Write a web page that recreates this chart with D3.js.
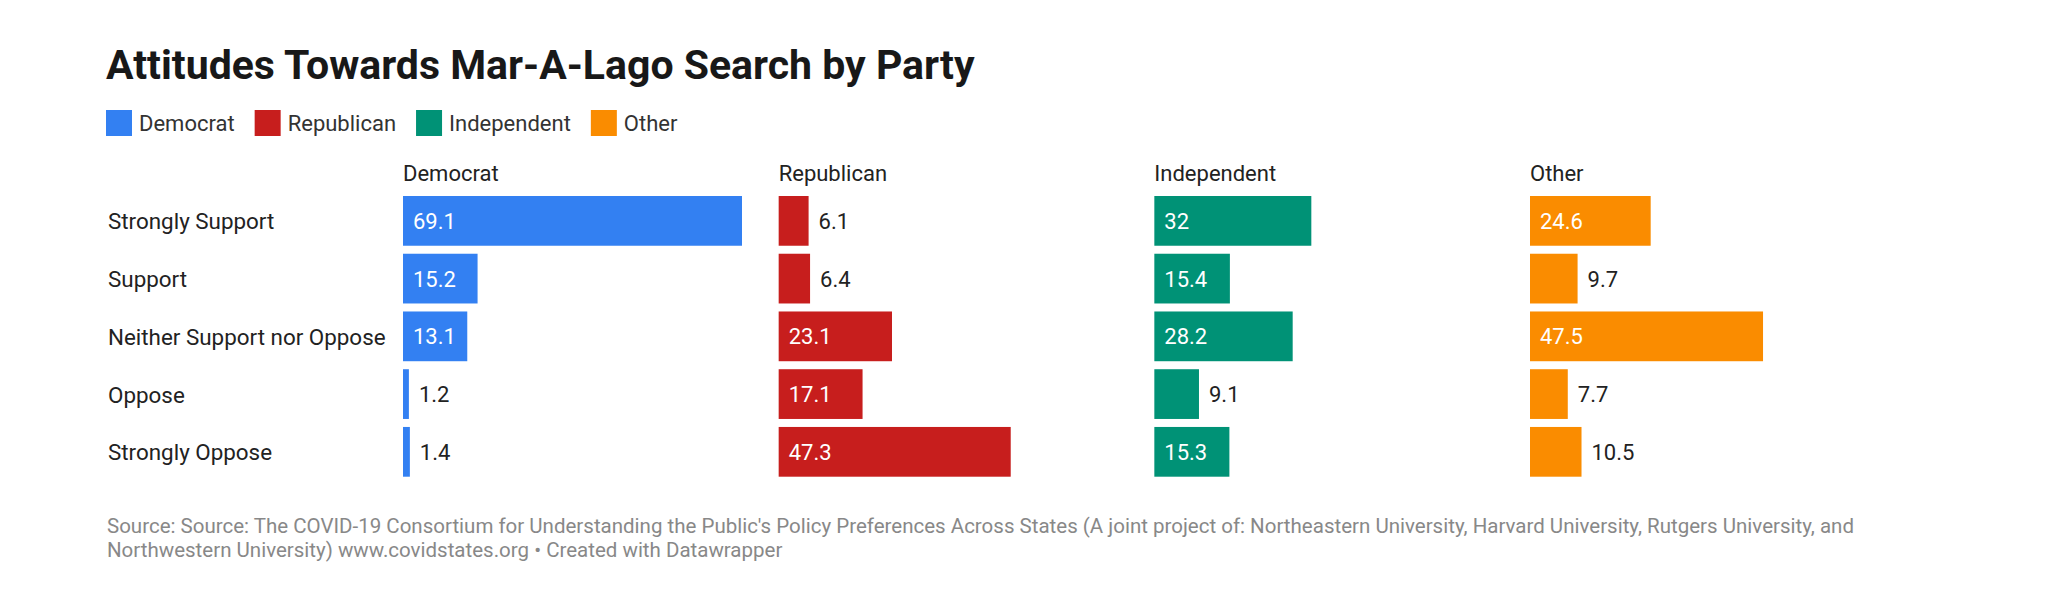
<!DOCTYPE html>
<html>
<head>
<meta charset="utf-8">
<script src="https://cdn.jsdelivr.net/npm/d3@7"></script>
<style>
  html, body { margin: 0; padding: 0; background: #fff; }
  svg { display: block; font-family: Roboto, "Noto Sans", sans-serif; }
</style>
</head>
<body>
<script>
const categories = ["Strongly Support", "Support", "Neither Support nor Oppose", "Oppose", "Strongly Oppose"];
const parties = ["Democrat", "Republican", "Independent", "Other"];
const democrat = [69.1, 15.2, 13.1, 1.2, 1.4];
const republican = [6.1, 6.4, 23.1, 17.1, 47.3];
const independent = [32, 15.4, 28.2, 9.1, 15.3];
const other = [24.6, 9.7, 47.5, 7.7, 10.5];
const colors = ["#3380f2", "#c71e1d", "#009276", "#fa8c00"];
const titleText = "Attitudes Towards Mar-A-Lago Search by Party";
const sourceLines = [
  "Source: Source: The COVID-19 Consortium for Understanding the Public's Policy Preferences Across States (A joint project of: Northeastern University, Harvard University, Rutgers University, and",
  "Northwestern University) www.covidstates.org \u2022 Created with Datawrapper"
];

const seriesValues = [democrat, republican, independent, other];
const W = 2056, H = 598;

const svg = d3.select("body").append("svg").attr("width", W).attr("height", H);

// Title
svg.append("text").attr("x", 106).attr("y", 79)
  .attr("font-size", 41).attr("font-weight", 700).attr("fill", "#181818")
  .text(titleText);

// Legend
const legend = svg.append("g");
let lx = 106;
parties.forEach((p, i) => {
  legend.append("rect").attr("x", lx).attr("y", 110).attr("width", 26).attr("height", 26).attr("fill", colors[i]);
  const t = legend.append("text").attr("x", lx + 33).attr("y", 131)
    .attr("font-size", 22).attr("fill", "#333").text(p);
  lx += 33 + t.node().getComputedTextLength() + 20;
});

// Scales
const panelX = d3.scaleBand().domain(parties).range([403, 1869]).paddingInner(0.0976).paddingOuter(0);
const allVals = seriesValues.flat();
const x = d3.scaleLinear().domain([0, d3.max(allVals)]).range([0, panelX.bandwidth()]);
const y = d3.scaleBand().domain(categories).range([196, 476.7]).paddingInner(0.1385).paddingOuter(0);

// Row labels
svg.append("g").selectAll("text").data(categories).join("text")
  .attr("x", 108).attr("y", d => y(d) + y.bandwidth() / 2).attr("dy", "0.38em")
  .attr("font-size", 22.4).attr("fill", "#222").text(d => d);

// Panels
parties.forEach((p, i) => {
  const g = svg.append("g").attr("transform", `translate(${panelX(p)},0)`);
  g.append("text").attr("x", 0).attr("y", 181).attr("font-size", 22).attr("fill", "#222").text(p);
  const data = categories.map((c, j) => ({ c, v: seriesValues[i][j] }));
  g.selectAll("rect").data(data).join("rect")
    .attr("x", 0).attr("y", d => y(d.c))
    .attr("width", d => x(d.v)).attr("height", y.bandwidth())
    .attr("fill", colors[i]);
  g.selectAll("text.val").data(data).join("text").attr("class", "val")
    .attr("y", d => y(d.c) + y.bandwidth() / 2).attr("dy", "0.36em")
    .attr("font-size", 22)
    .text(d => d3.format("")(d.v))
    .each(function (d) {
      const tw = this.getComputedTextLength();
      const bw = x(d.v);
      const inside = bw >= tw + 20;
      d3.select(this).attr("x", inside ? 10 : bw + 10).attr("fill", inside ? "#fff" : "#222");
    });
});

// Source
svg.append("g").selectAll("text").data(sourceLines).join("text")
  .attr("x", 107).attr("y", (d, i) => 533 + i * 24)
  .attr("font-size", 20.5).attr("fill", "#888").text(d => d);
</script>
</body>
</html>
